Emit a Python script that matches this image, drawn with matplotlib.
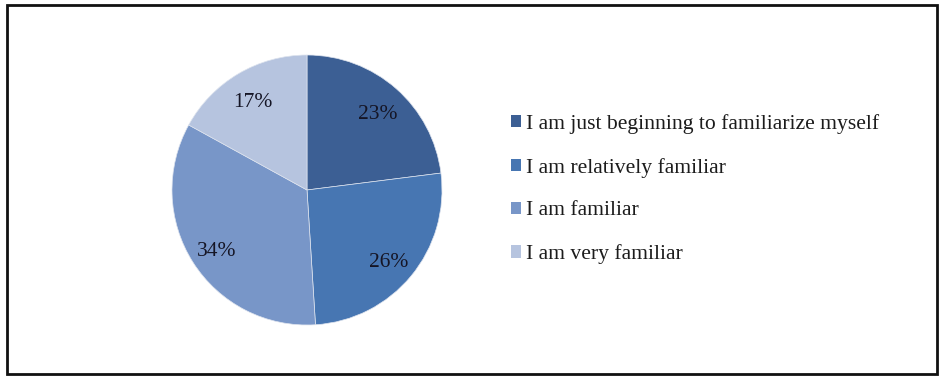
import matplotlib.pyplot as plt
from matplotlib.patches import Rectangle, Patch

labels = ["I am just beginning to familiarize myself",
          "I am relatively familiar",
          "I am familiar",
          "I am very familiar"]
shares = [23, 26, 34, 17]
colors = ["#3c5f94", "#4776b2", "#7896c8", "#b6c4df"]

plt.rcParams["font.family"] = "Liberation Serif"

fig = plt.figure(figsize=(9.39, 3.78), dpi=100)

# outer border of the chart area
fig.patches.append(Rectangle((7 / 939, 4 / 378), 930 / 939, 369 / 378,
                             transform=fig.transFigure, fill=False,
                             edgecolor="#111111", linewidth=2))

ax = fig.add_axes([172 / 939, 53 / 378, 270 / 939, 270 / 378])
wedges, texts, autotexts = ax.pie(
    shares, colors=colors, startangle=90, counterclock=False,
    autopct=lambda p: f"{p:.0f}%", pctdistance=0.79,
    wedgeprops=dict(linewidth=0.5, edgecolor="#dde3ee"),
    textprops=dict(fontsize=15.5, color="#151525"))
# nudge the percentage labels slightly down
for t in autotexts:
    x, y = t.get_position()
    t.set_position((x, y - 0.035))
ax.set_xlim(-1, 1)
ax.set_ylim(-1, 1)
ax.set_aspect("equal")

handles = [Patch(facecolor=c, edgecolor="none") for c in colors]
fig.legend(handles, labels, loc="center left",
           bbox_to_anchor=(491 / 939, 1 - 189 / 378), frameon=False,
           fontsize=15.6, handlelength=0.5, handleheight=0.5,
           handletextpad=0.2, labelspacing=1.1, labelcolor="#1c1c1c")

fig.savefig("out.png", dpi=100)
